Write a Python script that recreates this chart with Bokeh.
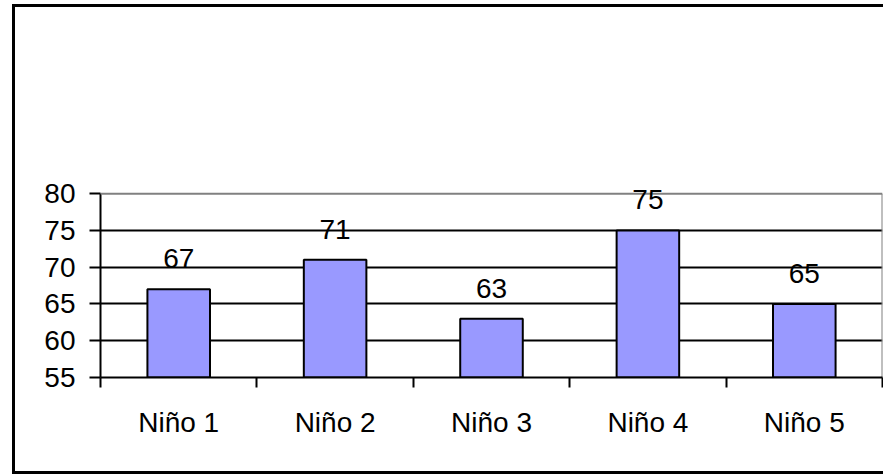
from bokeh.plotting import figure
from bokeh.models import FixedTicker, ColumnDataSource, LabelSet, Range1d, Span
from bokeh.core.properties import value
from bokeh.embed import file_html
from bokeh.resources import INLINE

categories = ["Niño 1", "Niño 2", "Niño 3", "Niño 4", "Niño 5"]
values = [67, 71, 63, 75, 65]
y_ticks = [55, 60, 65, 70, 75, 80]

FONT = "Liberation Sans"
FS = "28px"

y_min, y_max = y_ticks[0], y_ticks[-1]
xs = [i + 0.5 for i in range(len(categories))]
src = ColumnDataSource(dict(x=xs, top=values, label=[str(v) for v in values]))

p = figure(width=871, height=470, output_backend="svg", toolbar_location=None,
           x_range=Range1d(0, len(categories)), y_range=Range1d(y_min, y_max + 6),
           min_border_left=85, min_border_right=4, min_border_top=142, min_border_bottom=100)
p.styles = {"border-top": "3px solid #000", "border-left": "3px solid #000",
            "border-bottom": "3px solid #000",
            "position": "relative", "top": "4px", "left": "12px"}
p.background_fill_color = "white"
p.border_fill_color = "white"
p.outline_line_color = None

p.ygrid.ticker = FixedTicker(ticks=y_ticks[1:-1])
p.ygrid.grid_line_color = "black"
p.ygrid.grid_line_width = 2
p.xgrid.grid_line_color = None

# plot-area border (top and right), gray
p.add_layout(Span(location=y_max, dimension="width", line_color="#808080", line_width=2))
p.segment(x0=[len(categories)], x1=[len(categories)], y0=[y_min], y1=[y_max],
          line_color="#808080", line_width=2)

p.vbar(x="x", top="top", bottom=y_min, width=0.4, source=src,
       fill_color="#9999FF", line_color="black", line_width=2)

labels = LabelSet(x="x", y="top", text="label", source=src, y_offset=21,
                  text_align="center", text_baseline="alphabetic",
                  text_font=value(FONT), text_font_size=value(FS), text_color="black")
p.add_layout(labels)

# y axis
p.yaxis.ticker = FixedTicker(ticks=y_ticks)
p.yaxis.bounds = (y_min, y_max)
p.yaxis.axis_line_color = "black"
p.yaxis.axis_line_width = 2
p.yaxis.major_tick_line_width = 2
p.yaxis.major_tick_out = 11
p.yaxis.major_tick_in = 0
p.yaxis.minor_tick_line_color = None
p.yaxis.major_label_standoff = 14
p.yaxis.major_label_text_font = FONT
p.yaxis.major_label_text_font_size = FS
p.yaxis.major_label_text_color = "black"

# x axis
p.xaxis.ticker = FixedTicker(ticks=xs, minor_ticks=list(range(len(categories) + 1)))
p.xaxis.major_label_overrides = {x: c for x, c in zip(xs, categories)}
p.xaxis.axis_line_color = "black"
p.xaxis.axis_line_width = 2
p.xaxis.major_tick_line_color = None
p.xaxis.major_tick_out = 0
p.xaxis.major_tick_in = 0
p.xaxis.minor_tick_line_color = "black"
p.xaxis.minor_tick_line_width = 2
p.xaxis.minor_tick_out = 10
p.xaxis.minor_tick_in = 0
p.xaxis.major_label_standoff = 19
p.xaxis.major_label_text_font = FONT
p.xaxis.major_label_text_font_size = FS
p.xaxis.major_label_text_color = "black"

open("out.html", "w").write(file_html(p, INLINE))
